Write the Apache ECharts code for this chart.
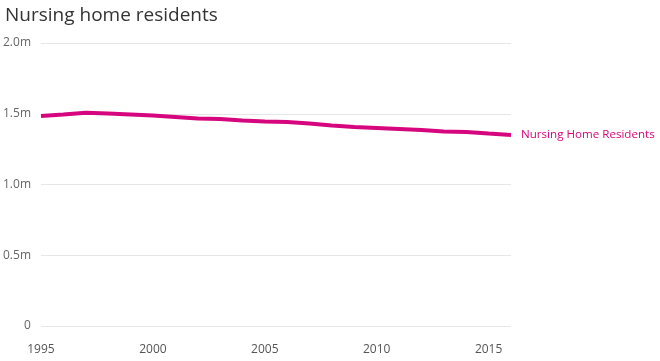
<!DOCTYPE html>
<html><head><meta charset="utf-8">
<script src="https://cdn.jsdelivr.net/npm/echarts@6/dist/echarts.min.js"></script>
<style>html,body{margin:0;padding:0;background:#fff}#c{width:660px;height:361px}</style>
</head><body><div id="c"></div>
<script>
const years = [1995,1996,1997,1998,1999,2000,2001,2002,2003,2004,2005,2006,2007,2008,2009,2010,2011,2012,2013,2014,2015,2016];
const residents = [1.484,1.495,1.507,1.502,1.495,1.488,1.477,1.466,1.463,1.452,1.445,1.442,1.431,1.417,1.406,1.399,1.392,1.385,1.375,1.371,1.360,1.350];
const yTicks = {0:'0',0.5:'0.5m',1:'1.0m',1.5:'1.5m',2:'2.0m'};
const seriesName = 'Nursing Home Residents';
const font = '"Segoe UI","Open Sans","Noto Sans",sans-serif';
const chart = echarts.init(document.getElementById('c'));
chart.setOption({
  animation:false,
  title:{text:'Nursing home residents',left:0,top:1,textStyle:{fontFamily:font,fontSize:19,fontWeight:'normal',color:'#333'}},
  grid:{left:40,right:149,top:43,bottom:35},
  xAxis:{type:'value',min:1995,max:2016,interval:5,
    axisLine:{show:false},axisTick:{show:false},splitLine:{show:false},
    axisLabel:{showMaxLabel:false,color:'#555',fontFamily:font,fontSize:12,margin:18,formatter:v=>String(v)}},
  yAxis:{type:'value',min:0,max:2,interval:0.5,
    axisLine:{show:false},axisTick:{show:false},
    splitLine:{lineStyle:{color:'#e6e6e6',width:1}},
    axisLabel:{color:'#666',fontFamily:font,fontSize:12,margin:10,formatter:v=>yTicks[v]}},
  series:[{name:seriesName,type:'line',data:years.map((y,i)=>[y,residents[i]]),
    showSymbol:false,symbol:'none',lineStyle:{color:'#d6077e',width:4},itemStyle:{color:'#d6077e'},
    endLabel:{show:true,formatter:seriesName,color:'#d6077e',fontFamily:font,fontSize:11.6,distance:10}}]
});
</script></body></html>
